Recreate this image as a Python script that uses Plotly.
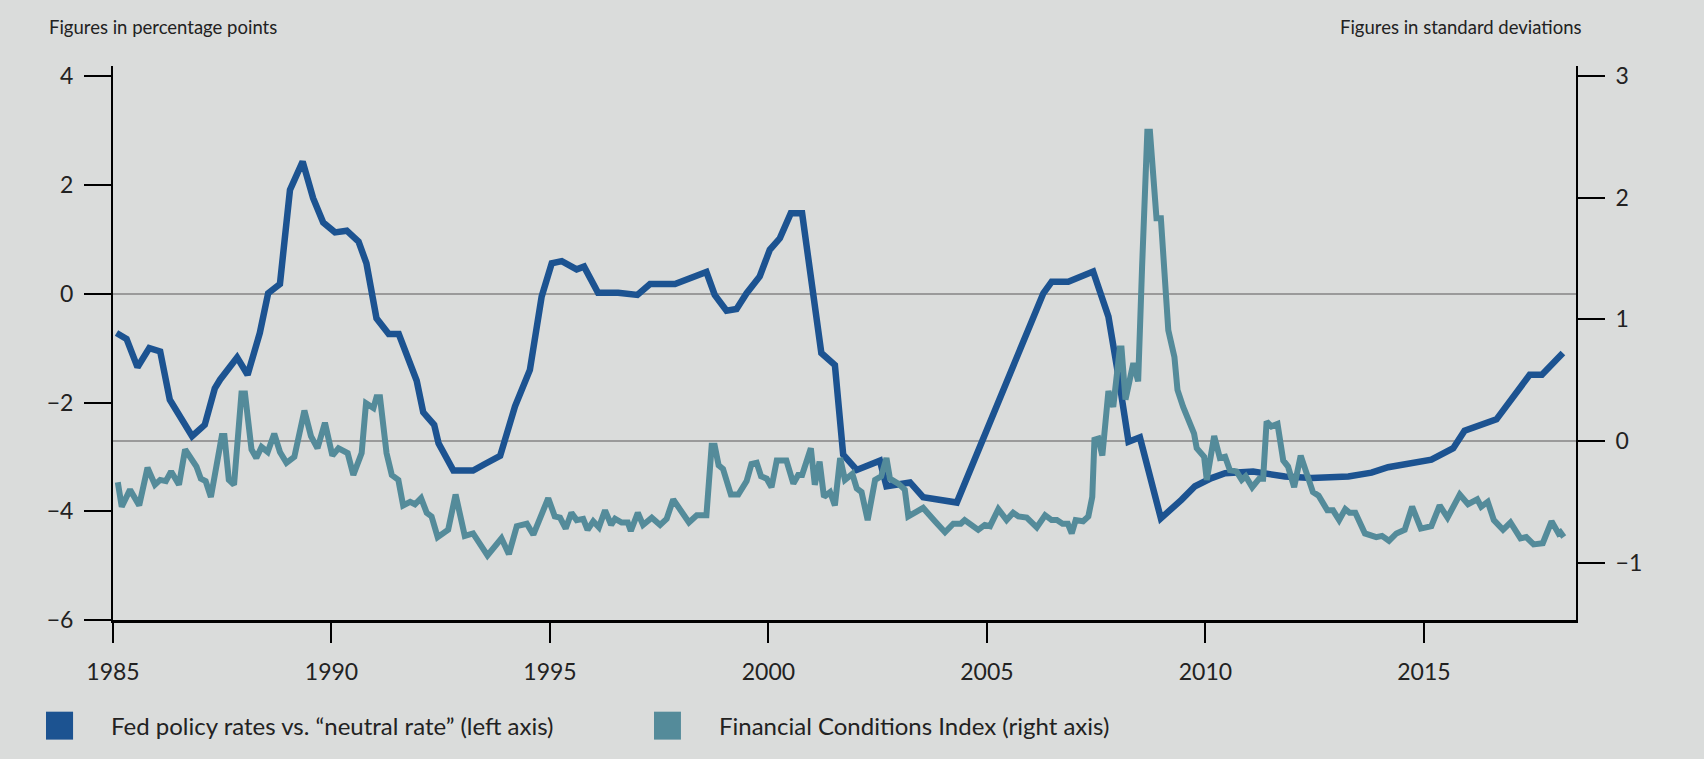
import plotly.graph_objects as go

# ---------------- data ----------------
series_names = ["Fed policy rates vs. \u201cneutral rate\u201d (left axis)",
                "Financial Conditions Index (right axis)"]

fed_years = [1985.08, 1985.31, 1985.56, 1985.83, 1986.08, 1986.30, 1986.81, 1987.10, 1987.33, 1987.45,
             1987.84, 1988.08, 1988.36, 1988.55, 1988.82, 1989.05, 1989.34, 1989.58, 1989.81, 1990.08,
             1990.35, 1990.62, 1990.80, 1991.03, 1991.31, 1991.54, 1991.95, 1992.10, 1992.35, 1992.45,
             1992.79, 1993.24, 1993.51, 1993.86, 1994.20, 1994.54, 1994.81, 1995.04, 1995.27, 1995.61,
             1995.78, 1996.10, 1996.56, 1997.00, 1997.29, 1997.86, 1998.58, 1998.77, 1999.04, 1999.27,
             1999.50, 1999.80, 2000.03, 2000.26, 2000.51, 2000.77, 2001.21, 2001.52, 2001.71, 2002.02,
             2002.55, 2002.70, 2003.24, 2003.54, 2004.31, 2006.29, 2006.48, 2006.86, 2007.43, 2007.78,
             2008.01, 2008.24, 2008.50, 2008.98, 2009.45, 2009.76, 2010.14, 2010.45, 2011.09, 2011.82,
             2012.43, 2013.27, 2013.80, 2014.18, 2015.17, 2015.67, 2015.93, 2016.66, 2017.42, 2017.70,
             2018.18]
fed_gap = [-0.72, -0.83, -1.35, -1.00, -1.06, -1.95, -2.62, -2.41, -1.74, -1.58,
           -1.17, -1.49, -0.72, 0.01, 0.18, 1.91, 2.43, 1.76, 1.31, 1.13,
           1.16, 0.96, 0.56, -0.45, -0.74, -0.74, -1.60, -2.18, -2.41, -2.75,
           -3.25, -3.25, -3.13, -2.98, -2.07, -1.40, -0.05, 0.56, 0.60, 0.45,
           0.50, 0.02, 0.02, -0.02, 0.18, 0.18, 0.40, -0.02, -0.31, -0.28,
           0.01, 0.32, 0.81, 1.02, 1.48, 1.48, -1.09, -1.31, -2.96, -3.24,
           -3.07, -3.54, -3.47, -3.74, -3.84, 0.01, 0.22, 0.22, 0.41, -0.42,
           -1.52, -2.72, -2.64, -4.13, -3.79, -3.54, -3.39, -3.30, -3.27, -3.36,
           -3.39, -3.36, -3.29, -3.19, -3.05, -2.84, -2.52, -2.31, -1.49, -1.49,
           -1.09]

fci_years = [1985.11, 1985.20, 1985.39, 1985.60, 1985.79, 1985.96, 1986.08, 1986.21, 1986.33, 1986.51,
             1986.65, 1986.81, 1986.91, 1987.01, 1987.12, 1987.24, 1987.49, 1987.55, 1987.65, 1987.77,
             1987.94, 1988.02, 1988.17, 1988.28, 1988.40, 1988.54, 1988.69, 1988.82, 1988.97, 1989.15,
             1989.38, 1989.53, 1989.68, 1989.85, 1990.02, 1990.16, 1990.29, 1990.37, 1990.50, 1990.69,
             1990.79, 1990.96, 1991.03, 1991.11, 1991.26, 1991.38, 1991.53, 1991.64, 1991.80, 1991.91,
             1992.05, 1992.18, 1992.29, 1992.43, 1992.67, 1992.84, 1993.05, 1993.24, 1993.57, 1993.89,
             1994.06, 1994.24, 1994.47, 1994.62, 1994.96, 1995.11, 1995.23, 1995.36, 1995.49, 1995.61,
             1995.76, 1995.86, 1995.99, 1996.12, 1996.26, 1996.40, 1996.49, 1996.64, 1996.78, 1996.85,
             1997.01, 1997.13, 1997.33, 1997.52, 1997.67, 1997.82, 1998.18, 1998.36, 1998.58, 1998.70,
             1998.77, 1998.86, 1998.96, 1999.14, 1999.31, 1999.50, 1999.61, 1999.73, 1999.83, 1999.96,
             2000.07, 2000.19, 2000.41, 2000.57, 2000.68, 2000.77, 2000.97, 2001.06, 2001.17, 2001.27,
             2001.41, 2001.52, 2001.64, 2001.75, 2001.92, 2002.02, 2002.13, 2002.27, 2002.44, 2002.58,
             2002.70, 2002.78, 2002.97, 2003.12, 2003.20, 2003.54, 2003.81, 2004.04, 2004.23, 2004.40,
             2004.49, 2004.80, 2004.95, 2005.07, 2005.26, 2005.45, 2005.60, 2005.72, 2005.91, 2006.14,
             2006.33, 2006.48, 2006.60, 2006.73, 2006.85, 2006.94, 2007.03, 2007.20, 2007.32, 2007.41,
             2007.46, 2007.55, 2007.64, 2007.78, 2007.89, 2008.04, 2008.08, 2008.17, 2008.35, 2008.46,
             2008.55, 2008.67, 2008.73, 2008.88, 2008.98, 2009.07, 2009.15, 2009.29, 2009.36, 2009.49,
             2009.64, 2009.74, 2009.80, 2009.97, 2010.03, 2010.20, 2010.33, 2010.45, 2010.56, 2010.71,
             2010.83, 2010.92, 2011.07, 2011.23, 2011.32, 2011.40, 2011.51, 2011.65, 2011.78, 2011.89,
             2012.03, 2012.18, 2012.46, 2012.59, 2012.79, 2012.92, 2013.06, 2013.20, 2013.30, 2013.43,
             2013.65, 2013.76, 2013.91, 2014.04, 2014.20, 2014.37, 2014.50, 2014.56, 2014.73, 2014.93,
             2015.17, 2015.36, 2015.54, 2015.82, 2016.01, 2016.22, 2016.31, 2016.46, 2016.60, 2016.81,
             2016.98, 2017.21, 2017.34, 2017.51, 2017.72, 2017.92, 2018.08, 2018.12, 2018.20]
fci_values = [-0.34, -0.54, -0.40, -0.53, -0.22, -0.36, -0.32, -0.33, -0.25, -0.36,
              -0.07, -0.17, -0.21, -0.31, -0.33, -0.46, 0.04, 0.04, -0.32, -0.36,
              0.39, 0.39, -0.07, -0.14, -0.05, -0.09, 0.06, -0.09, -0.18, -0.13,
              0.25, 0.04, -0.06, 0.15, -0.12, -0.06, -0.09, -0.10, -0.28, -0.10,
              0.31, 0.27, 0.36, 0.36, -0.10, -0.28, -0.32, -0.53, -0.50, -0.52,
              -0.47, -0.59, -0.62, -0.79, -0.73, -0.44, -0.78, -0.76, -0.94, -0.80,
              -0.93, -0.70, -0.68, -0.77, -0.47, -0.62, -0.63, -0.72, -0.59, -0.65,
              -0.64, -0.73, -0.66, -0.71, -0.57, -0.69, -0.64, -0.67, -0.67, -0.74,
              -0.59, -0.69, -0.63, -0.69, -0.64, -0.48, -0.67, -0.61, -0.61, -0.04,
              -0.04, -0.20, -0.23, -0.44, -0.44, -0.33, -0.19, -0.18, -0.29, -0.31,
              -0.38, -0.16, -0.16, -0.35, -0.28, -0.28, -0.06, -0.36, -0.17, -0.46,
              -0.42, -0.53, -0.14, -0.32, -0.27, -0.39, -0.42, -0.65, -0.32, -0.29,
              -0.14, -0.31, -0.35, -0.40, -0.62, -0.55, -0.66, -0.75, -0.68, -0.68,
              -0.65, -0.73, -0.69, -0.70, -0.56, -0.65, -0.59, -0.62, -0.63, -0.71,
              -0.61, -0.65, -0.65, -0.68, -0.68, -0.76, -0.65, -0.66, -0.62, -0.46,
              0.01, 0.02, -0.12, 0.41, 0.28, 0.76, 0.76, 0.34, 0.64, 0.49,
              1.43, 2.54, 2.54, 1.83, 1.83, 1.32, 0.91, 0.69, 0.42, 0.28,
              0.16, 0.06, -0.06, -0.13, -0.32, 0.04, -0.14, -0.13, -0.24, -0.25,
              -0.32, -0.29, -0.38, -0.31, -0.31, 0.16, 0.12, 0.14, -0.16, -0.21,
              -0.38, -0.12, -0.42, -0.45, -0.57, -0.57, -0.65, -0.56, -0.59, -0.59,
              -0.76, -0.77, -0.79, -0.78, -0.82, -0.76, -0.73, -0.73, -0.54, -0.72,
              -0.70, -0.53, -0.63, -0.44, -0.52, -0.48, -0.54, -0.50, -0.65, -0.73,
              -0.67, -0.80, -0.79, -0.85, -0.84, -0.66, -0.76, -0.75, -0.79]

x_ticks = [1985, 1990, 1995, 2000, 2005, 2010, 2015]
left_ticks = [-6, -4, -2, 0, 2, 4]
right_ticks = [-1, 0, 1, 2, 3]
left_title = "Figures in percentage points"
right_title = "Figures in standard deviations"

# ---------------- styles ----------------
BG = "#dadcdb"
BLUE = "#1c5391"
TEAL = "#548b9a"
TXT = "#222222"
FONT = "Lato"

fig = go.Figure()
fig.add_trace(go.Scatter(x=fed_years, y=fed_gap, mode="lines", name=series_names[0],
                         line=dict(color=BLUE, width=6.5), showlegend=False, yaxis="y"))
fig.add_trace(go.Scatter(x=fci_years, y=fci_values, mode="lines", name=series_names[1],
                         line=dict(color=TEAL, width=6), showlegend=False, yaxis="y2"))

axis_common = dict(showgrid=False, ticks="outside", tickcolor="black", tickwidth=2,
                   showline=True, linecolor="black", linewidth=2,
                   tickfont=dict(family=FONT, size=23, color=TXT))

fig.update_layout(
    width=1704, height=759,
    paper_bgcolor=BG, plot_bgcolor=BG,
    margin=dict(l=113, r=128, t=66, b=139),
    font=dict(family=FONT, color=TXT),
    xaxis=dict(range=[1985, 2018.48], tickvals=x_ticks, ticklen=20, zeroline=False,
               ticklabelstandoff=10, **{**axis_common, "linewidth": 2.5, "tickwidth": 1.5}),
    yaxis=dict(range=[-6, 4.19], tickvals=left_ticks, ticklen=27, ticklabelstandoff=6,
               zeroline=True, zerolinecolor="#9a9a9a", zerolinewidth=1.5, **axis_common),
    yaxis2=dict(range=[-1.471, 3.081], tickvals=right_ticks, ticklen=27, ticklabelstandoff=6,
                overlaying="y", side="right",
                zeroline=True, zerolinecolor="#9a9a9a", zerolinewidth=1.5, **axis_common),
)

# header labels
fig.add_annotation(text=left_title, xref="paper", yref="paper", x=-0.0453, y=1.0704,
                   xanchor="left", yanchor="middle", showarrow=False,
                   font=dict(family=FONT, size=18.5, color=TXT))
fig.add_annotation(text=right_title, xref="paper", yref="paper", x=1.0055, y=1.0704,
                   xanchor="right", yanchor="middle", showarrow=False,
                   font=dict(family=FONT, size=18.5, color=TXT))

# legend (square swatches + labels)
legend_items = [(series_names[0], BLUE, -0.0458, -0.0273, -0.0029),
                (series_names[1], TEAL, 0.3698, 0.3882, 0.4128)]
for name, col, x0, x1, xt in legend_items:
    fig.add_shape(type="rect", xref="paper", yref="paper", x0=x0, x1=x1, y0=-0.2159, y1=-0.1655,
                  fillcolor=col, line=dict(width=0))
    fig.add_annotation(text=name, xref="paper", yref="paper", x=xt, y=-0.1913,
                       xanchor="left", yanchor="middle", showarrow=False,
                       font=dict(family=FONT, size=24, color=TXT))

fig.write_html("out.html", config={"displayModeBar": False},
               post_script="document.body.style.margin='0';")
